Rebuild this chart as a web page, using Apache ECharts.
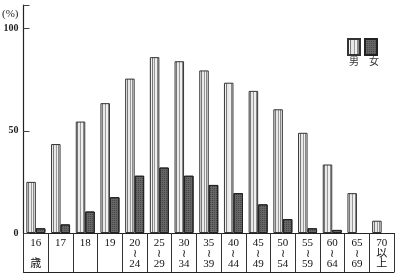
<!DOCTYPE html>
<html><head><meta charset="utf-8">
<script src="https://cdn.jsdelivr.net/npm/echarts@6/dist/echarts.min.js"></script>
<style>html,body{margin:0;padding:0;background:#fff}#c{width:396px;height:276px}</style>
</head><body><div id="c"></div>
<script>
var categories = ['16\n\n歳','17','18','19','20\n≀\n24','25\n≀\n29','30\n≀\n34','35\n≀\n39','40\n≀\n44','45\n≀\n49','50\n≀\n54','55\n≀\n59','60\n≀\n64','65\n≀\n69','70\n以\n上'];
var male = [25, 43.5, 54.5, 63.5, 75.5, 86, 84, 79.5, 73.5, 69.5, 60.5, 49, 33.5, 19.5, 6];
var female = [2.3, 4.2, 10.5, 17.5, 28, 32, 28, 23.5, 19.5, 14, 6.8, 2.3, 1.5, null, null];
var seriesNames = ['男', '女'];
var yTicks = [0, 50, 100];

var font = '"Liberation Serif", "Noto Sans CJK JP", serif';
var maleFill = new echarts.graphic.LinearGradient(0, 0, 1, 0, [
  {offset: 0, color: '#f4f4f4'}, {offset: 0.18, color: '#f4f4f4'},
  {offset: 0.18, color: '#777'}, {offset: 0.28, color: '#777'},
  {offset: 0.28, color: '#e8e8e8'}, {offset: 0.48, color: '#e8e8e8'},
  {offset: 0.48, color: '#999'}, {offset: 0.58, color: '#999'},
  {offset: 0.58, color: '#f0f0f0'}, {offset: 0.75, color: '#f0f0f0'},
  {offset: 0.75, color: '#888'}, {offset: 0.85, color: '#888'},
  {offset: 0.85, color: '#eee'}, {offset: 1, color: '#eee'}
]);
var chart = echarts.init(document.getElementById('c'), null, {renderer: 'canvas'});
chart.setOption({
  animation: false,
  backgroundColor: '#fff',
  title: [
    {text: '(%)', left: 0, top: 7, padding: 2, textStyle: {fontFamily: font, fontSize: 11, fontWeight: 'normal', color: '#222'}},
    {text: '男　女', left: 347, top: 55, padding: 2, textStyle: {fontFamily: font, fontSize: 10, fontWeight: 'normal', color: '#333'}}
  ],
  legend: {
    left: 347, top: 38, padding: 0, icon: 'rect', itemWidth: 12, itemHeight: 16, itemGap: 3,
    formatter: function(){ return ''; },
    textStyle: {fontSize: 1, padding: 0},
    data: seriesNames
  },
  grid: {left: 23.5, right: 2, top: 5, bottom: 43},
  xAxis: [{
    type: 'category', data: categories,
    axisLine: {show: true, lineStyle: {color: '#222', width: 1}},
    axisTick: {show: true, inside: false, length: 39, lineStyle: {color: '#333', width: 1}},
    axisLabel: {interval: 0, margin: 5, fontFamily: font, fontSize: 11, lineHeight: 10.5, color: '#111'}
  }, {
    type: 'category', data: categories, position: 'bottom', offset: 39,
    axisLine: {show: true, lineStyle: {color: '#222', width: 1.2}},
    axisTick: {show: false}, axisLabel: {show: false}
  }],
  yAxis: {
    type: 'value', min: 0, max: 111.5, interval: 50,
    axisLine: {show: true, lineStyle: {color: '#222', width: 1.2}},
    axisTick: {show: true, inside: true, length: 6, lineStyle: {color: '#444'}},
    splitLine: {show: false},
    axisLabel: {margin: 5, fontFamily: font, fontSize: 10, fontWeight: 'bold', color: '#222',
      formatter: function(v){ return yTicks.indexOf(v) >= 0 ? String(v) : ''; }}
  },
  series: [{
    name: seriesNames[0], type: 'bar', data: male, barWidth: 9.5, barGap: '0%',
    itemStyle: {color: maleFill, borderColor: '#333', borderWidth: 1}
  }, {
    name: seriesNames[1], type: 'bar', data: female, barWidth: 9.5,
    itemStyle: {color: '#666', borderColor: '#222', borderWidth: 1,
      decal: {symbol: 'rect', symbolSize: 1, color: 'rgba(40,40,40,0.5)', dashArrayX: [1, 1], dashArrayY: [1, 1], rotation: 0}}
  }]
});
</script></body></html>
